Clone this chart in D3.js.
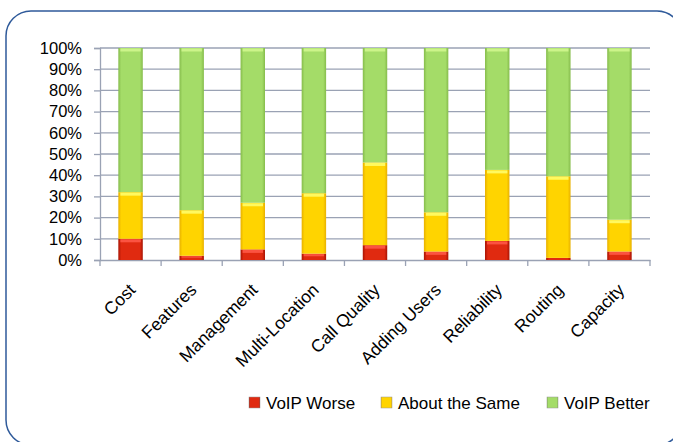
<!DOCTYPE html>
<html><head><meta charset="utf-8">
<script src="https://cdn.jsdelivr.net/npm/d3@7"></script>
<style>body{margin:0;background:#fff}svg{display:block}text{font-family:"Liberation Sans",Arial,sans-serif;fill:#000}</style>
</head><body><svg id="c" width="673" height="442"></svg>
<script>
const categories = ["Cost","Features","Management","Multi-Location","Call Quality","Adding Users","Reliability","Routing","Capacity"];
const voipWorse = [10,2,5,3,7,4,9,1,4];
const aboutSame = [22,21.5,22,28.5,39,18.5,33.5,38.5,15];
const voipBetter = [68,76.5,73,68.5,54,77.5,57.5,60.5,81];
const seriesNames = ["VoIP Worse","About the Same","VoIP Better"];
const yTicks = [0,10,20,30,40,50,60,70,80,90,100];

const svg = d3.select("#c");
const defs = svg.append("defs");
const pal = [
  {id:"gRed", edge:"#a81404", mid:"#e02a10", top:"#ff5a4a"},
  {id:"gYel", edge:"#e8b000", mid:"#ffd400", top:"#ffff70"},
  {id:"gGrn", edge:"#86bc4c", mid:"#a4dc68", top:"#d4f890"}
];
pal.forEach(p=>{
  const g = defs.append("linearGradient").attr("id",p.id).attr("x1","0").attr("x2","1").attr("y1","0").attr("y2","0");
  g.append("stop").attr("offset","0").attr("stop-color",p.edge);
  g.append("stop").attr("offset","0.12").attr("stop-color",p.mid);
  g.append("stop").attr("offset","0.88").attr("stop-color",p.mid);
  g.append("stop").attr("offset","1").attr("stop-color",p.edge);
});

// frame
svg.append("rect").attr("x",6).attr("y",11).attr("width",676).attr("height",434).attr("rx",25)
  .attr("fill","none").attr("stroke","#2f5a9a").attr("stroke-width",1.5);

const m = {l:100, r:650, t:48, b:260};
const x = d3.scaleBand().domain(categories).range([m.l,m.r]).paddingInner(0.6).paddingOuter(0.3);
const xa = d3.scaleBand().domain(categories).range([m.l,m.r]);
const y = d3.scaleLinear().domain([0,100]).range([m.b,m.t]);

// gridlines
svg.append("g").selectAll("line").data(yTicks.slice(1)).join("line")
  .attr("x1",m.l).attr("x2",m.r).attr("y1",d=>y(d)).attr("y2",d=>y(d))
  .attr("stroke","#9aa2b4").attr("stroke-width",1.3);

// y axis
const yAxis = svg.append("g").attr("transform",`translate(${m.l},0)`)
  .call(d3.axisLeft(y).tickValues(yTicks).tickFormat(d=>d+"%").tickSize(6).tickPadding(12));
yAxis.select(".domain").attr("stroke","#9aa2b4").attr("stroke-width",1.3);
yAxis.selectAll(".tick line").attr("stroke","#9aa2b4").attr("stroke-width",1.3);
yAxis.selectAll("text").style("font-size","16.5px").style("fill","#000");

// x axis
const xAxis = svg.append("g").attr("transform",`translate(0,${m.b})`)
  .call(d3.axisBottom(xa).tickSize(0).tickFormat(""));
xAxis.select(".domain").attr("stroke","#9aa2b4").attr("stroke-width",1.3);
const bounds = categories.map(c=>xa(c)).concat([m.r]);
xAxis.selectAll("line.b").data(bounds).join("line").attr("class","b")
  .attr("x1",d=>d).attr("x2",d=>d).attr("y1",0).attr("y2",6)
  .attr("stroke","#9aa2b4").attr("stroke-width",1.3);

// stacked bars
const rows = categories.map((c,i)=>({cat:c, w:voipWorse[i], s:aboutSame[i], b:voipBetter[i]}));
const stack = d3.stack().keys(["w","s","b"])(rows);
const bw = x.bandwidth();
stack.forEach((layer,li)=>{
  const g = svg.append("g");
  g.selectAll("rect.seg").data(layer).join("rect").attr("class","seg")
    .attr("x",d=>x(d.data.cat)).attr("width",bw)
    .attr("y",d=>y(d[1])).attr("height",d=>y(d[0])-y(d[1]))
    .attr("fill",`url(#${pal[li].id})`);
  g.selectAll("rect.cap").data(layer.filter(d=>y(d[0])-y(d[1])>3)).join("rect").attr("class","cap")
    .attr("x",d=>x(d.data.cat)+2).attr("width",bw-4)
    .attr("y",d=>y(d[1])+0.5).attr("height",d=>Math.min(3,(y(d[0])-y(d[1]))/3))
    .attr("fill",pal[li].top).attr("opacity",0.85);
});

// category labels
svg.append("g").selectAll("text").data(categories).join("text")
  .attr("transform",d=>`translate(${x(d)+bw/2+6},${m.b+31}) rotate(-45)`)
  .attr("text-anchor","end").style("font-size","17.5px").text(d=>d);

// legend
const legX = [249,381,547];
const lg = svg.append("g");
seriesNames.forEach((n,i)=>{
  lg.append("rect").attr("x",legX[i]).attr("y",397).attr("width",11).attr("height",11)
    .attr("fill",`url(#${pal[i].id})`).attr("stroke","#999").attr("stroke-width",0.5);
  lg.append("text").attr("x",legX[i]+17).attr("y",409).style("font-size","17px").text(n);
});
</script></body></html>
